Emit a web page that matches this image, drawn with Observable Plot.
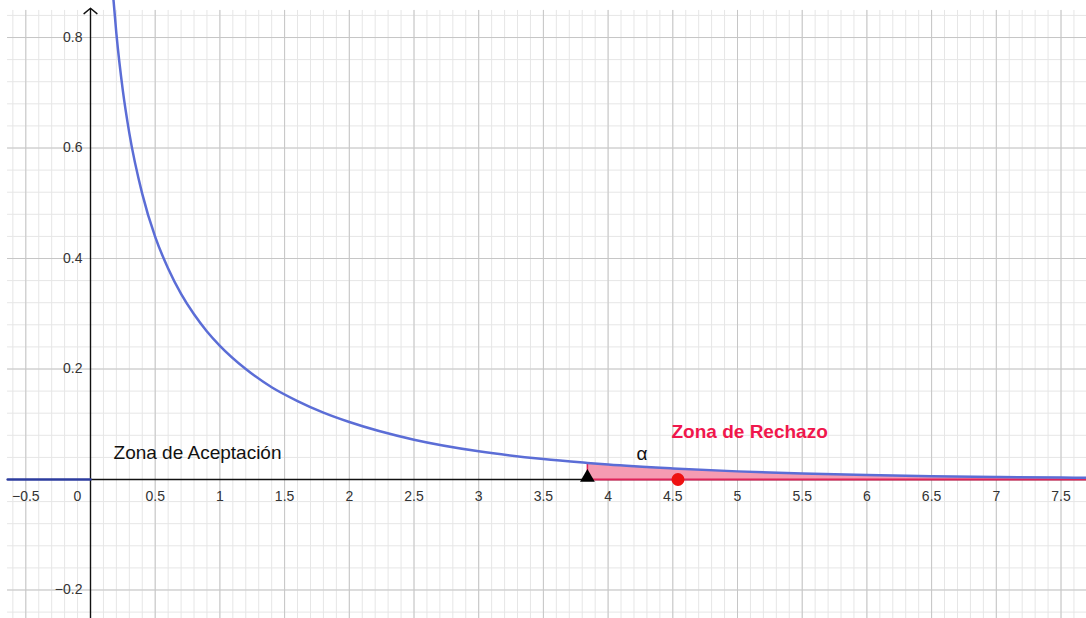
<!DOCTYPE html>
<html>
<head>
<meta charset="utf-8">
<script src="https://cdn.jsdelivr.net/npm/d3@7"></script>
<script src="https://cdn.jsdelivr.net/npm/@observablehq/plot@0.6"></script>
<style>
html, body { margin: 0; padding: 0; background: #fff; overflow: hidden; }
#chart svg { display: block; }
</style>
</head>
<body>
<div id="chart"></div>
<script>
// Chi-square density curve (x, y)
const curveX = [0.17, 0.2, 0.25, 0.3, 0.4, 0.5, 0.6, 0.7, 0.8, 0.9, 1.0, 1.2, 1.4, 1.6, 1.8, 2.0, 2.5, 3.0, 3.5, 3.84, 4.0, 4.5, 5.0, 5.5, 6.0, 6.5, 7.0, 7.5, 7.7];
const curveY = [0.889, 0.807, 0.704, 0.627, 0.517, 0.439, 0.382, 0.336, 0.299, 0.268, 0.242, 0.200, 0.167, 0.142, 0.121, 0.104, 0.072, 0.051, 0.037, 0.030, 0.027, 0.020, 0.0147, 0.0109, 0.0081, 0.0061, 0.0046, 0.0034, 0.0031];
// Zero part of the function for negative x
const zeroX = [-0.64, 0];
const zeroY = [0, 0];
// Critical value and test statistic
const critical = 3.84;
const statistic = 4.54;
// Tick labels
const xTicks = [-0.5, 0.5, 1, 1.5, 2, 2.5, 3, 3.5, 4, 4.5, 5, 5.5, 6, 6.5, 7, 7.5];
const yTicks = [0.8, 0.6, 0.4, 0.2, -0.2];
const xMinor = d3.range(-6, 77).map(i => i / 10);
const yMinor = d3.range(-6, 22).map(i => +(i * 0.04).toFixed(2));
const xMajor = d3.range(-1, 16).map(i => i * 0.5);
const yMajor = [-0.2, 0.2, 0.4, 0.6, 0.8];

const curve = curveX.map((x, i) => ({x, y: curveY[i]}));
const zero = zeroX.map((x, i) => ({x, y: zeroY[i]}));
const reject = curve.filter(d => d.x >= critical);
const critY = curve.find(d => d.x === critical).y;

const X0 = -0.6955, X1 = 7.697, Y0 = -0.2516, Y1 = 0.867;
const GX0 = -0.641, GY1 = 0.849;
const fmt = v => (v < 0 ? "\u2212" : "") + Math.abs(v);

const chart = Plot.plot({
  width: 1086,
  height: 618,
  margin: 0,
  x: {domain: [X0, X1], axis: null},
  y: {domain: [Y0, Y1], axis: null},
  style: {fontFamily: "Liberation Sans, Arial, sans-serif", background: "#fff"},
  marks: [
    Plot.ruleX(xMinor, {y1: Y0, y2: GY1, stroke: "#e6e6e6", strokeWidth: 1}),
    Plot.ruleY(yMinor, {x1: GX0, x2: X1, stroke: "#e6e6e6", strokeWidth: 1}),
    Plot.ruleX(xMajor, {y1: Y0, y2: GY1, stroke: "#c6c6c6", strokeWidth: 1}),
    Plot.ruleY(yMajor, {x1: GX0, x2: X1, stroke: "#c6c6c6", strokeWidth: 1}),
    // axes
    Plot.ruleY([0], {x1: 0, x2: X1, stroke: "#111", strokeWidth: 1.3}),
    Plot.arrow([0], {x1: 0, x2: 0, y1: Y0, y2: GY1 + 0.004, stroke: "#111", strokeWidth: 1.4, headLength: 9, headAngle: 100}),
    // rejection region
    Plot.areaY(reject, {x: "x", y: "y", fill: "#f59bb2", fillOpacity: 1, curve: "monotone-x"}),
    Plot.ruleY([0], {x1: critical, x2: X1, stroke: "#e0245a", strokeWidth: 2}),
    Plot.ruleX([critical], {y1: 0, y2: critY, stroke: "#e0245a", strokeWidth: 1.5}),
    // curve
    Plot.line(zero, {x: "x", y: "y", stroke: "#2c3c9e", strokeWidth: 2.5}),
    Plot.line(curve, {x: "x", y: "y", stroke: "#5b6dd6", strokeWidth: 2.5, curve: "monotone-x", clip: true}),
    // points
    Plot.dot([critical], {x: d => d, y: 0, symbol: "triangle", r: 5.5, fill: "#000", dy: -2}),
    Plot.dot([statistic], {x: d => d, y: 0, r: 6.5, fill: "#ee1111"}),
    // tick labels
    Plot.text(xTicks, {x: d => d, y: 0, text: fmt, dy: 17, fontSize: 14, fill: "#333"}),
    Plot.text([0], {x: d => d, y: 0, text: d => "0", dy: 17, dx: -13, fontSize: 14, fill: "#333"}),
    Plot.text(yTicks, {x: 0, y: d => d, text: fmt, dx: -8, textAnchor: "end", fontSize: 14, fill: "#333"}),
    // annotations
    Plot.text(["Zona de Aceptación"], {x: 0.178, y: 0.048, text: d => d, textAnchor: "start", fontSize: 19, fill: "#111"}),
    Plot.text(["Zona de Rechazo"], {x: 4.49, y: 0.087, text: d => d, textAnchor: "start", fontSize: 19, fontWeight: "bold", fill: "#f0174c"}),
    Plot.text(["α"], {x: 4.22, y: 0.047, text: d => d, textAnchor: "start", fontSize: 19, fill: "#111"})
  ]
});
document.getElementById("chart").appendChild(chart);
</script>
</body>
</html>
